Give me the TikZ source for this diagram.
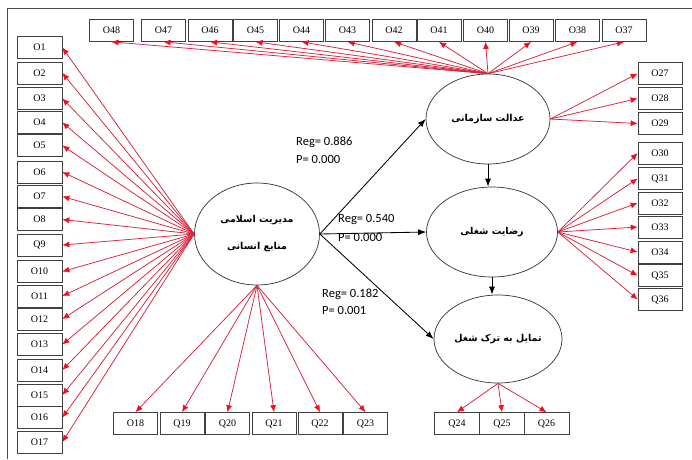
\documentclass[tikz,border=0pt]{standalone}
\usepackage{fontspec}
\setmainfont{Liberation Serif}
\newfontfamily\labfont{Carlito}
\newfontfamily\arabicfont[Script=Arabic]{DejaVu Sans}
\TeXXeTstate=1
\usetikzlibrary{arrows.meta,shapes.geometric}
\definecolor{lnred}{RGB}{215,35,60}
\definecolor{tipred}{RGB}{240,15,30}
\begin{document}
\begin{tikzpicture}[x=1pt,y=-1pt,
  obs/.style={draw=black!75, line width=0.7pt, minimum width=44pt, minimum height=22pt, inner sep=0pt, font=\fontsize{10}{11}\selectfont},
  lat/.style={draw=black!80, line width=0.7pt, ellipse, inner sep=0pt, font=\arabicfont\bfseries\fontsize{9.5}{27}\selectfont, align=center},
  redarr/.style={draw=lnred, line width=0.75pt, -{Latex[length=7pt,width=6pt,color=tipred]}},
  blkarr/.style={draw=black, line width=0.85pt, -{Latex[length=8pt,width=6pt]}},
  reglab/.style={font=\labfont\fontsize{12.5}{14}\selectfont, inner sep=0pt, anchor=base west}]
\useasboundingbox (0,0) rectangle (692,459);
\fill[white] (0,0) rectangle (692,459);
\draw[black!70, line width=0.8pt] (7,459) -- (7,8) -- (692,8);

% latent variables
\node[lat, minimum width=125, minimum height=102] (m) at (257,234) {\beginR مدیریت اسلامی\endR\\\beginR منابع انسانی\endR};
\node[lat, minimum width=124, minimum height=90] (j) at (488,119) {\beginR عدالت سازمانی\endR};
\node[lat, minimum width=131, minimum height=90] (r) at (492,232) {\beginR رضایت شغلی\endR};
\node[lat, minimum width=128, minimum height=88] (t) at (498,339) {\beginR تمایل به ترک شغل\endR};

% top boxes
\foreach \n/\x in {O48/111.5,O47/163.5,O46/210,O45/255.5,O44/301.5,O43/347.5,O42/394,O41/439,O40/485.5,O39/531,O38/577.5,O37/624}
  {\node[obs] (\n) at (\x,30.5) {\n};
   \draw[redarr] (j.north) -- (\n.south);}

% left boxes
\foreach \n/\y in {O1/47.5,O2/73,O3/98.5,O4/122.5,O5/145.5,O6/172,O7/196.5,O8/219.5,Q9/245,O10/271.5,O11/296,O12/319,O13/344.5,O14/370,O15/395,O16/417.5,O17/442}
  {\node[obs, minimum width=45] (\n) at (39.5,\y) {\n};
   \draw[redarr] (m.west) -- (\n.east);}

% bottom boxes of m
\foreach \n/\x in {O18/135.5,Q19/182,Q20/227.5,Q21/274,Q22/320,Q23/365.5}
  {\node[obs] (\n) at (\x,423.5) {\n};
   \draw[redarr] (m.south) -- (\n.north);}

% right boxes of j
\foreach \n/\y in {O27/73.5,O28/98.5,O29/123.5}
  {\node[obs] (\n) at (660,\y) {\n};
   \draw[redarr] (j.east) -- (\n.west);}

% right boxes of r
\foreach \n/\y in {O30/153,Q31/178.5,O32/203,O33/227,O34/252,Q35/275.5,Q36/299.5}
  {\node[obs] (\n) at (660,\y) {\n};
   \draw[redarr] (r.east) -- (\n.west);}

% bottom boxes of t
\foreach \n/\x in {Q24/457,Q25/502,Q26/546.5}
  {\node[obs, minimum width=45] (\n) at (\x,423.5) {\n};
   \draw[redarr] (t.south) -- (\n.north);}

% structural paths
\draw[blkarr] (m.east) -- (j.west);
\draw[blkarr] (m.east) -- (r.west);
\draw[blkarr] (m.east) -- (t.west);
\draw[blkarr] (j.south) -- (j.south |- r.north);
\draw[blkarr] (r.south) -- (r.south |- t.north);

% labels
\node[reglab] (reg1) at (296,145) {Reg= 0.886};
\node[reglab] (p1) at (296,163) {P= 0.000};
\node[reglab] (reg2) at (338,222) {Reg= 0.540};
\node[reglab] (p2) at (338,241) {P= 0.000};
\node[reglab] (reg3) at (322,297) {Reg= 0.182};
\node[reglab] (p3) at (322,314) {P= 0.001};
\end{tikzpicture}
\end{document}
